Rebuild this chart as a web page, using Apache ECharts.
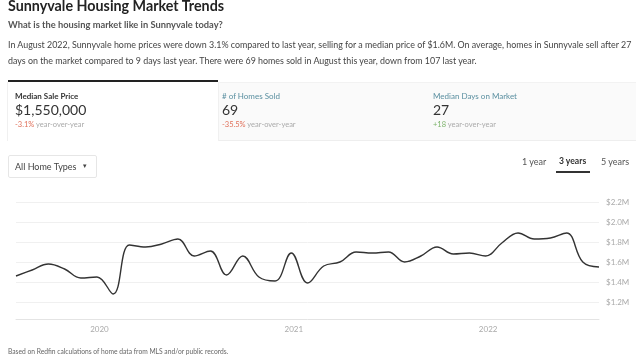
<!DOCTYPE html>
<html><head><meta charset="utf-8">
<script src="https://cdn.jsdelivr.net/npm/echarts@6/dist/echarts.min.js"></script>
<style>
html,body{margin:0;padding:0;width:640px;height:362px;overflow:hidden;background:#fff;font-family:Lato,"Open Sans",sans-serif;color:#333}
#chart{position:absolute;left:0;top:0;width:640px;height:362px}
.t{position:absolute;white-space:nowrap;line-height:1}
.tab{position:absolute;top:82px;height:59px;box-sizing:border-box}
</style></head><body>
<div id="chart"></div>
<div class="t" style="left:8px;top:-1px;font-size:14.3px;font-weight:700;color:#222">Sunnyvale Housing Market Trends</div>
<div class="t" style="left:8px;top:20px;font-size:9.3px;font-weight:700;color:#555">What is the housing market like in Sunnyvale today?</div>
<div class="t" style="left:8px;top:37px;font-size:8.88px;color:#444;line-height:16px">In August 2022, Sunnyvale home prices were down 3.1% compared to last year, selling for a median price of $1.6M. On average, homes in Sunnyvale sell after 27<br>days on the market compared to 9 days last year. There were 69 homes sold in August this year, down from 107 last year.</div>
<div class="tab" style="left:218px;width:418px;background:#fafafa;border-bottom:1px solid #eee;border-top:1px solid #f2f2f2"></div>
<div class="tab" style="left:7px;width:212px;background:#fff;border-left:1px solid #f0f0f0;border-right:1px solid #f0f0f0"></div>
<div style="position:absolute;left:8px;top:80px;width:210px;height:2px;background:#222"></div>
<div class="t" style="left:15px;top:92px;font-size:8px;font-weight:700;color:#333">Median Sale Price</div>
<div class="t" style="left:15px;top:103px;font-size:14px;color:#333">$1,550,000</div>
<div class="t" style="left:15px;top:121px;font-size:7.5px;color:#aaa"><span style="color:#e0705a">-3.1%</span> year-over-year</div>
<div class="t" style="left:222px;top:92px;font-size:8px;color:#5a8fa0">#&nbsp;of Homes Sold</div>
<div class="t" style="left:222px;top:103px;font-size:14px;color:#333">69</div>
<div class="t" style="left:222px;top:121px;font-size:7.5px;color:#aaa"><span style="color:#e0705a">-35.5%</span> year-over-year</div>
<div class="t" style="left:433px;top:92px;font-size:8px;color:#5a8fa0">Median Days on Market</div>
<div class="t" style="left:433px;top:103px;font-size:14px;color:#333">27</div>
<div class="t" style="left:433px;top:121px;font-size:7.5px;color:#aaa"><span style="color:#7cb36a">+18</span> year-over-year</div>
<div style="position:absolute;left:8px;top:155px;width:89px;height:23px;box-sizing:border-box;border:1px solid #e6e6e6;border-radius:2px"></div>
<div class="t" style="left:15px;top:162px;font-size:9px;color:#444">All Home Types</div>
<div class="t" style="left:83px;top:162px;font-size:7px;color:#444">&#9662;</div>
<div class="t" style="left:522px;top:157px;font-size:9px;color:#555">1 year</div>
<div class="t" style="left:559px;top:157px;font-size:8.6px;font-weight:700;color:#333">3 years</div>
<div class="t" style="left:601px;top:157px;font-size:9px;color:#555">5 years</div>
<div style="position:absolute;left:556px;top:171px;width:34px;height:2px;background:#333"></div>
<div class="t" style="left:8px;top:348px;font-size:6.7px;color:#666">Based on Redfin calculations of home data from MLS and/or public records.</div>
<script>
const months = ['2019-08','2019-09','2019-10','2019-11','2019-12',
  '2020-01','2020-02','2020-03','2020-04','2020-05','2020-06','2020-07','2020-08','2020-09','2020-10','2020-11','2020-12',
  '2021-01','2021-02','2021-03','2021-04','2021-05','2021-06','2021-07','2021-08','2021-09','2021-10','2021-11','2021-12',
  '2022-01','2022-02','2022-03','2022-04','2022-05','2022-06','2022-07','2022-08'];
const medianPrice = [1.46,1.52,1.58,1.53,1.44,
  1.45,1.28,1.77,1.75,1.78,1.83,1.66,1.71,1.47,1.66,1.45,1.41,
  1.69,1.39,1.56,1.60,1.70,1.69,1.70,1.60,1.66,1.75,1.68,1.69,
  1.66,1.79,1.89,1.83,1.84,1.89,1.60,1.55];
const yTicks = [1.2,1.4,1.6,1.8,2.0,2.2];
const chart = echarts.init(document.getElementById('chart'));
chart.setOption({
  animation:false,
  grid:{left:16,right:41,top:202,bottom:60},
  xAxis:{type:'category',data:months,boundaryGap:false,offset:17,
    axisLine:{lineStyle:{color:'#e4e4e4'}},axisTick:{show:false},
    axisLabel:{interval:(i,v)=>v.endsWith('-01'),formatter:v=>v.slice(0,4),color:'#aaa',fontSize:8,margin:6,fontFamily:'Lato',padding:[0,0,0,5]},
    splitLine:{show:false}},
  yAxis:{type:'value',position:'right',min:yTicks[0],max:yTicks[yTicks.length-1],interval:0.2,
    axisLine:{show:false},axisTick:{show:false},
    axisLabel:{formatter:v=>'$'+v.toFixed(1)+'M',color:'#aaa',fontSize:8,margin:7,fontFamily:'Lato'},
    splitLine:{lineStyle:{color:'#f0f0f0'}}},
  series:[{type:'line',data:medianPrice,smooth:0.4,showSymbol:false,lineStyle:{color:'#333',width:1.4}}]
});
</script>
</body></html>
